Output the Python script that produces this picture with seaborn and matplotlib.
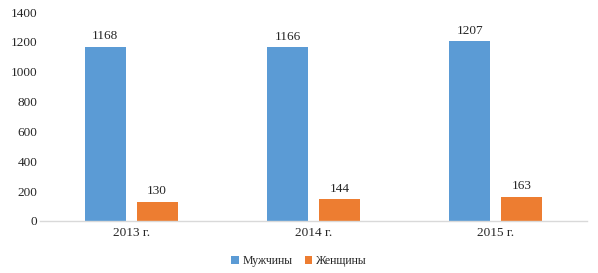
import matplotlib
matplotlib.use("Agg")
import matplotlib.pyplot as plt
import seaborn as sns
import pandas as pd

years = ["2013 г.", "2014 г.", "2015 г."]
series = ["Мужчины", "Женщины"]
men = [1168, 1166, 1207]
women = [130, 144, 163]
colors = ["#5B9BD5", "#ED7D31"]

sns.set_style("white")
plt.rcParams['font.family'] = ['Liberation Serif', 'DejaVu Serif']

df = pd.DataFrame({
    "year": years * 2,
    "group": [series[0]] * 3 + [series[1]] * 3,
    "value": men + women,
})

fig = plt.figure(figsize=(5.98, 2.73), dpi=100)
ax = fig.add_axes([0.0669, 0.1905, 0.9147, 0.7655])
sns.barplot(data=df, x="year", y="value", hue="group", palette=colors,
            saturation=1, width=0.57, gap=0.21, linewidth=0, ax=ax, legend=True)
ax.set_xlim(-0.5, 2.5)
ax.set_ylim(0, 1400)
ax.set_yticks(range(0, 1401, 200))
ax.set_xlabel("")
ax.set_ylabel("")
for s in ["top", "right", "left"]:
    ax.spines[s].set_visible(False)
ax.spines["bottom"].set_color("#D9D9D9")
ax.spines["bottom"].set_linewidth(1.0)
ax.tick_params(axis="both", length=0, labelsize=9.5, colors="#262626", pad=4)
ax.tick_params(axis="y", pad=2)
for c in ax.containers:
    ax.bar_label(c, fmt="%d", padding=3, fontsize=9.5, color="#262626")
handles, labels = ax.get_legend_handles_labels()
ax.get_legend().remove()
leg = fig.legend(handles, labels, loc="center", bbox_to_anchor=(0.5, 0.043), ncol=2,
                 frameon=False, fontsize=8.5, handlelength=0.65, handleheight=0.65,
                 columnspacing=1.0, handletextpad=0.35)
for t in leg.get_texts():
    t.set_color("#262626")
fig.savefig("out.png", dpi=100)
